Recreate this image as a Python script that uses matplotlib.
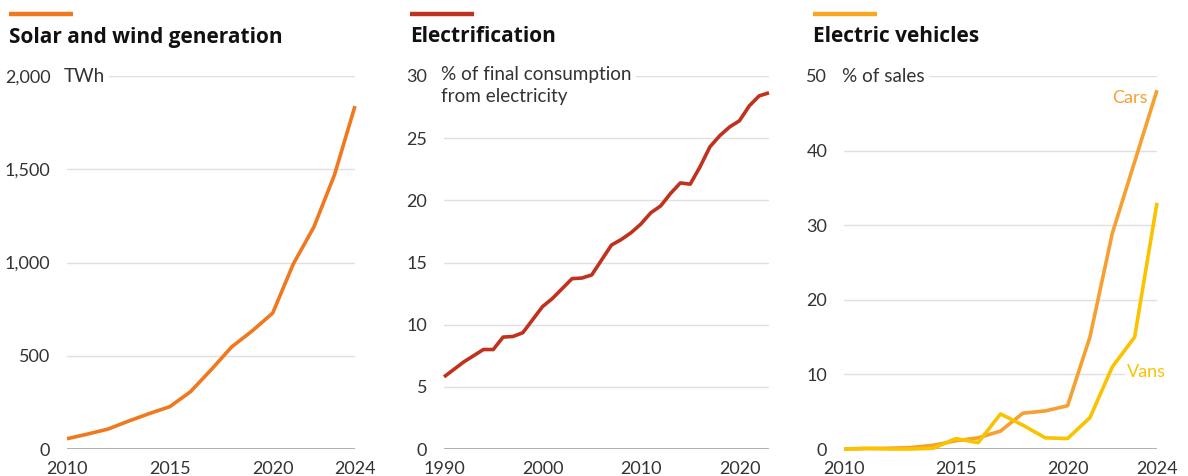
import matplotlib
matplotlib.use("Agg")
import matplotlib.pyplot as plt

# ---------------- data ----------------
sw_years = list(range(2010, 2025))
sw_twh = [55, 80, 107, 150, 190, 227, 307, 424, 547, 633, 729, 992, 1190, 1469, 1839]

el_years = list(range(1990, 2024))
el_share = [5.8, 6.4, 7.0, 7.5, 8.0, 8.0, 9.0, 9.05, 9.35, 10.4,
            11.45, 12.1, 12.9, 13.7, 13.75, 14.0, 15.2, 16.4, 16.85, 17.4,
            18.1, 19.0, 19.55, 20.55, 21.4, 21.3, 22.7, 24.3, 25.2, 25.9,
            26.4, 27.6, 28.4, 28.65]

ev_years = list(range(2010, 2025))
ev_cars = [0.0, 0.05, 0.1, 0.2, 0.5, 1.1, 1.5, 2.4, 4.8, 5.1, 5.8, 15.0, 28.9, 38.5, 48.1]
ev_vans = [0.0, 0.1, 0.0, 0.0, 0.1, 1.4, 0.85, 4.7, 3.2, 1.5, 1.4, 4.2, 11.0, 15.0, 33.0]

titles = ["Solar and wind generation", "Electrification", "Electric vehicles"]
units = ["TWh", "% of final consumption\nfrom electricity", "% of sales"]
y_ticks = [[0, 500, 1000, 1500, 2000], [0, 5, 10, 15, 20, 25, 30], [0, 10, 20, 30, 40, 50]]
y_labels = [["0", "500", "1,000", "1,500", "2,000"],
            ["0", "5", "10", "15", "20", "25", "30"],
            ["0", "10", "20", "30", "40", "50"]]
x_ticks = [[2010, 2015, 2020, 2024], [1990, 2000, 2010, 2020], [2010, 2015, 2020, 2024]]
series_labels = ["Cars", "Vans"]

# ---------------- style ----------------
W, H = 1188, 476
DPI = 100
C_SW = "#F0781E"
C_EL = "#C0321E"
C_CARS = "#F5A030"
C_VANS = "#F9C300"
TXT = "#333333"
GRID = "#E0E0E0"
BASE = "#AAAAAA"
FONT = "Lato"
TFONT = "Open Sans"
FS = 13.0

fig = plt.figure(figsize=(W / DPI, H / DPI), dpi=DPI)
fig.patch.set_facecolor("white")


def px_axes(x0, x1, ytop, ybot):
    return fig.add_axes([x0 / W, (H - ybot) / H, (x1 - x0) / W, (ybot - ytop) / H])


boxes = [(67, 355, 76, 449, (2010, 2024), (0, 2000)),
         (444, 769, 76, 449, (1990, 2023), (0, 30)),
         (844, 1157, 76, 449, (2010, 2024), (0, 50))]
bar_x = [9, 410, 813]

axes = []
for i, (x0, x1, yt, yb, xl, yl) in enumerate(boxes):
    ax = px_axes(x0, x1, yt, yb)
    ax.set_xlim(*xl)
    ax.set_ylim(*yl)
    for s in ax.spines.values():
        s.set_visible(False)
    ax.set_yticks(y_ticks[i])
    ax.set_yticklabels(y_labels[i])
    ax.set_xticks(x_ticks[i])
    ax.set_xticklabels([str(t) for t in x_ticks[i]])
    ax.tick_params(axis="both", length=0, labelsize=FS, labelcolor=TXT)
    ax.tick_params(axis="y", pad=12)
    ax.tick_params(axis="x", pad=8.5)
    for lab in ax.get_xticklabels() + ax.get_yticklabels():
        lab.set_fontfamily(FONT)
    ax.axhline(0, color=BASE, lw=1.3, zorder=1)
    fig.text((bar_x[i]) / W, (H - 37) / H, titles[i], fontsize=15.0, fontweight="bold",
             family=TFONT, color="#111111", va="center", ha="left")
    axes.append(ax)

for i, bx in enumerate(bar_x):
    fig.add_artist(plt.Line2D([bx / W, (bx + 64) / W], [(H - 14) / H] * 2,
                              color=[C_SW, C_EL, "#F7A81E"][i], lw=3.2, solid_capstyle="butt"))

unit_x = [64, 441, 842]
unit_texts = []
for i, ax in enumerate(axes):
    t = fig.text(unit_x[i] / W, (H - 76) / H, units[i], fontsize=FS + 0.6, family=FONT,
                 color=TXT, ha="left",
                 va="top" if i == 1 else "center", linespacing=1.35)
    unit_texts.append(t)
unit_texts[1].set_y((H - 76 + 10) / H)

fig.canvas.draw()
r = fig.canvas.get_renderer()
for i, ax in enumerate(axes):
    x0, x1 = boxes[i][0], boxes[i][1]
    for v in y_ticks[i][1:-1]:
        ax.axhline(v, color=GRID, lw=1, zorder=0)
    bb = unit_texts[i].get_window_extent(r)
    start = (bb.x1 + 4 - x0) / (x1 - x0)
    ax.axhline(y_ticks[i][-1], xmin=max(start, 0), xmax=1, color=GRID, lw=1, zorder=0)

kw = dict(lw=2.6, clip_on=False, solid_joinstyle="round", solid_capstyle="butt")
axes[0].plot(sw_years, sw_twh, color=C_SW, zorder=3, **kw)
axes[1].plot(el_years, el_share, color=C_EL, zorder=3, **kw)
axes[2].plot(ev_years, ev_cars, color=C_CARS, zorder=3, **kw)
axes[2].plot(ev_years, ev_vans, color=C_VANS, zorder=4, **kw)

axes[2].text(2023.6, 47.1, series_labels[0], color=C_CARS, fontsize=FS, family=FONT,
             ha="right", va="center")
axes[2].text(2022.65, 10.3, series_labels[1], color=C_VANS, fontsize=FS, family=FONT,
             ha="left", va="center",
             bbox=dict(facecolor="white", edgecolor="none", pad=1.5))

fig.savefig("out.png", dpi=DPI, facecolor="white")
